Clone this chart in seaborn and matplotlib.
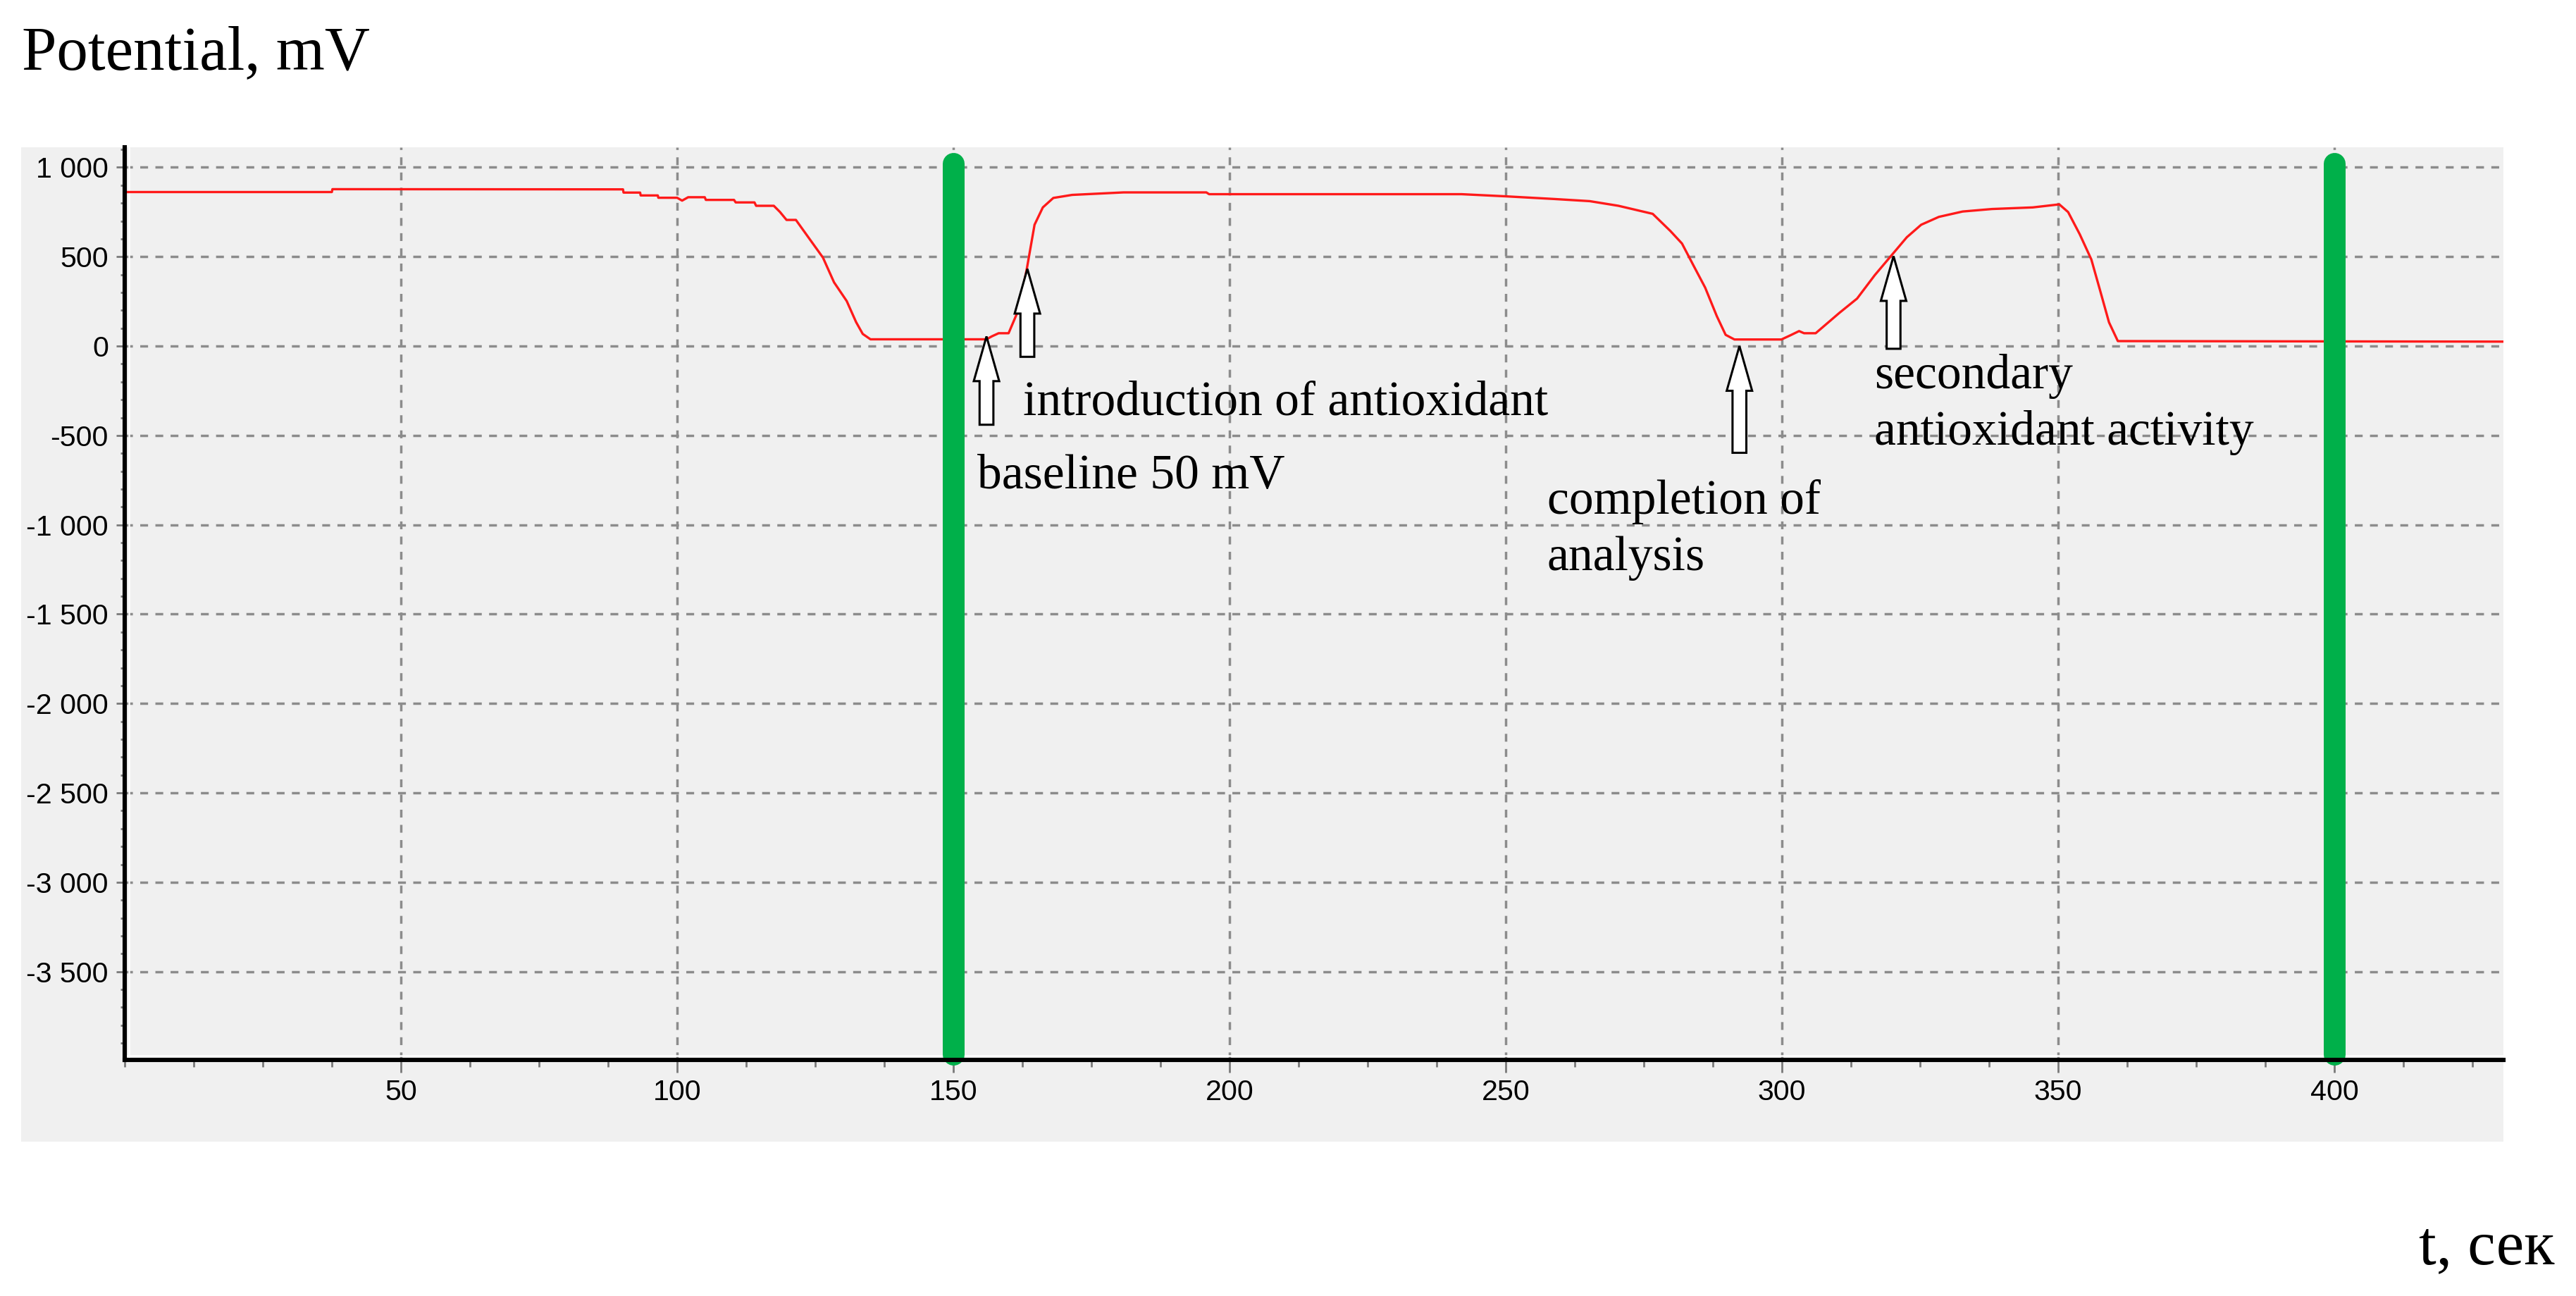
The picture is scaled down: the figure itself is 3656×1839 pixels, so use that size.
import matplotlib
matplotlib.use("Agg")
import matplotlib.pyplot as plt
import matplotlib.transforms as mtransforms
from matplotlib.patches import Rectangle
from matplotlib.ticker import MultipleLocator, FixedLocator
import seaborn as sns
import pandas as pd

# ---------------- data ----------------
time_s = [0, 37.5, 37.6, 90.2, 90.3, 93.3, 93.4, 96.5, 96.6, 100, 100.9, 102, 105, 105.2,
          110.3, 110.6, 114, 114.3, 117.5, 118.6, 119.8, 121.5, 124.4, 126.4, 128.4, 130.7,
          132.4, 133.6, 135, 156, 157, 158.2, 160, 161.8, 163.3, 164.7, 166.2, 168.1, 171.5,
          180.8, 195.8, 196.3, 242, 250, 258.8, 265.2, 270.4, 276.6, 279.8, 281.9, 284, 286.1,
          288.2, 289.8, 291.4, 299.9, 301.5, 303.1, 304, 306.1, 310.4, 313.6, 316.8, 319.7,
          322.6, 325.2, 328.4, 332.7, 338, 345.4, 350.2, 351.8, 353.9, 356, 357.6, 359.2,
          360.8, 430.6]
potential_mv = [862, 862, 878, 877, 859, 859, 843, 843, 830, 830, 814, 833, 833, 818,
                818, 804, 804, 785, 785, 751, 706, 706, 581, 495, 357, 252,
                134, 68, 38, 38, 55, 72, 72, 203, 432, 679, 776, 829, 846,
                860, 860, 850, 850, 838, 823, 811, 785, 740, 644, 574, 450, 327,
                168, 63, 37, 37, 60, 84, 72, 72, 186, 266, 397, 503,
                609, 679, 723, 753, 767, 776, 793, 750, 626, 485, 310, 133,
                28, 25]

marker_times = [150, 400]                      # green vertical markers

x_ticks = [50, 100, 150, 200, 250, 300, 350, 400]
x_tick_labels = ["50", "100", "150", "200", "250", "300", "350", "400"]
y_ticks = [1000, 500, 0, -500, -1000, -1500, -2000, -2500, -3000, -3500]
y_tick_labels = ["1 000", "500", "0", "-500", "-1 000", "-1 500", "-2 000",
                 "-2 500", "-3 000", "-3 500"]

# annotation arrows: (time, tail value, tip value)
arrow_times = [156.0, 163.4, 292.3, 320.2]
arrow_tails = [-440, -60, -597, -15]
arrow_tips = [54, 432, 0, 503]

# annotation texts: (text, time, value)
note_texts = ["introduction of antioxidant", "baseline 50 mV", "completion of",
              "analysis", "secondary", "antioxidant activity"]
note_times = [162.6, 154.3, 257.5, 257.5, 316.7, 316.7]
note_values = [-384, -798, -940, -1255, -236, -553]

# ---------------- figure ----------------
W, H, DPI = 3656, 1839, 200
sns.set_theme(style="white")
plt.rcParams["font.family"] = ["Liberation Sans", "DejaVu Sans"]
plt.rcParams["text.color"] = "black"
plt.rcParams["xtick.color"] = "black"
plt.rcParams["ytick.color"] = "black"

fig = plt.figure(figsize=(W / DPI, H / DPI), dpi=DPI, facecolor="white")

# grey panel behind the chart
panel = Rectangle((30 / W, 1 - 1620 / H), (3553 - 30) / W, (1620 - 209) / H,
                  transform=fig.transFigure, facecolor="#f0f0f0", edgecolor="none",
                  zorder=-10)
fig.add_artist(panel)

ax_left_px, ax_right_px, ax_top_px, ax_bot_px = 177, 3553, 209, 1503.5
ax = fig.add_axes([ax_left_px / W, 1 - ax_bot_px / H,
                   (ax_right_px - ax_left_px) / W, (ax_bot_px - ax_top_px) / H])
ax.set_facecolor("#f0f0f0")

df = pd.DataFrame({"t": time_s, "mv": potential_mv})
sns.lineplot(data=df, x="t", y="mv", ax=ax, color="#ff1a1a", linewidth=1.2,
             estimator=None, sort=False, zorder=3)

# scale
px_per_mv = 253.6 / 1000
y1000_px = 237.5
ymax = 1000 + (y1000_px - ax_top_px) / px_per_mv
ymin = 1000 - (ax_bot_px - y1000_px) / px_per_mv
ax.set_ylim(ymin, ymax)
ax.set_xlim(0, 430.6)

# green markers
green_lw_pt = 31 / DPI * 72
for mt in marker_times:
    ax.plot([mt, mt], [1020, -3964], color="#00b04a", linewidth=green_lw_pt,
            solid_capstyle="round", clip_on=False, zorder=4)

# grid
ax.grid(True, which="major", axis="both", color="#8c8c8c",
        linestyle=(0, (3.2, 3.0)), linewidth=1.25, zorder=1)
ax.set_axisbelow(True)

# ticks
ax.xaxis.set_major_locator(FixedLocator(x_ticks))
ax.set_xticklabels(x_tick_labels)
ax.xaxis.set_minor_locator(MultipleLocator(12.5))
ax.yaxis.set_major_locator(FixedLocator(y_ticks))
ax.set_yticklabels(y_tick_labels)
ax.yaxis.set_minor_locator(MultipleLocator(100))

ax.tick_params(axis="x", which="major", direction="out", length=6.5, width=1.0,
               color="#7a7a7a", labelsize=14.8, labelcolor="black", pad=3.5,
               bottom=True)
ax.tick_params(axis="x", which="minor", direction="out", length=3.5, width=1.0,
               color="#7a7a7a", bottom=True)
ax.tick_params(axis="y", which="major", direction="out", length=4.3, width=1.0,
               color="#7a7a7a", labelsize=14.8, labelcolor="black", pad=4.0,
               left=True)
ax.tick_params(axis="y", which="minor", direction="out", length=2.2, width=1.0,
               color="#7a7a7a", left=True)

for side in ["top", "right"]:
    ax.spines[side].set_visible(False)
for side in ["left", "bottom"]:
    ax.spines[side].set_visible(True)
    ax.spines[side].set_color("black")
    ax.spines[side].set_linewidth(2.2)
    ax.spines[side].set_zorder(6)

# thin white inner edge along the spines (3D look)
off_up = mtransforms.offset_copy(ax.transAxes, fig=fig, x=0, y=6 * 72 / DPI, units="points")
off_right = mtransforms.offset_copy(ax.transAxes, fig=fig, x=6 * 72 / DPI, y=0, units="points")
ax.plot([0, 1], [0, 0], transform=off_up, color="white", linewidth=0.9,
        clip_on=False, zorder=2.5)
ax.plot([0, 0], [0, 1], transform=off_right, color="white", linewidth=0.9,
        clip_on=False, zorder=2.5)

ax.set_xlabel("")
ax.set_ylabel("")

# arrows
for at, tail, tip in zip(arrow_times, arrow_tails, arrow_tips):
    ax.arrow(at, tail, 0, tip - tail, width=2.5, head_width=4.6, head_length=250,
             length_includes_head=True, facecolor="white", edgecolor="black",
             linewidth=1.1, zorder=5)

# notes
for txt, nt, nv in zip(note_texts, note_times, note_values):
    ax.text(nt, nv, txt, fontsize=25, family=["Liberation Serif", "DejaVu Serif"],
            color="black", ha="left", va="baseline", zorder=7)

# axis titles
fig.text(31 / W, 1 - 98 / H, "Potential, mV", fontsize=32, color="black",
         family=["Liberation Serif", "DejaVu Serif"], ha="left", va="baseline")
fig.text(3625 / W, 1 - 1793 / H, "t, сек", fontsize=32, color="black",
         family=["Liberation Serif", "DejaVu Serif"], ha="right", va="baseline")

fig.savefig("out.png", dpi=DPI, facecolor="white")
